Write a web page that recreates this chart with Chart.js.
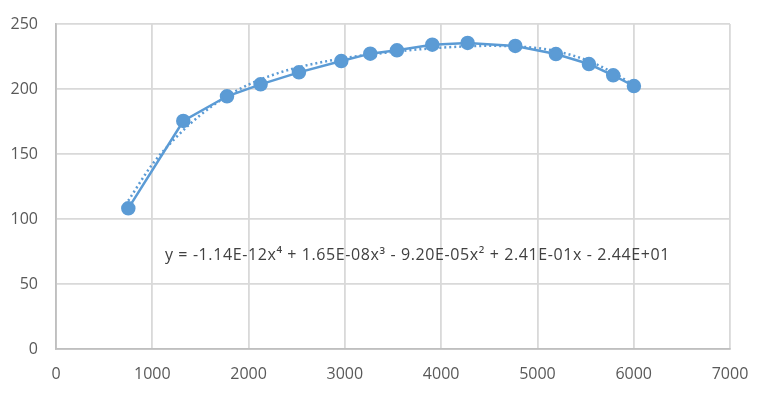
<!DOCTYPE html>
<html>
<head>
<meta charset="utf-8">
<script src="https://cdn.jsdelivr.net/npm/chart.js@4"></script>
<style>
  html, body { margin: 0; padding: 0; background: #fff; }
  #wrap { position: relative; width: 768px; height: 393px; }
  #eq {
    position: absolute; left: 165px; top: 243px;
    font-family: "Open Sans", "Liberation Sans", sans-serif;
    font-size: 16px; letter-spacing: 0.6px; color: #404040; white-space: nowrap;
  }
</style>
</head>
<body>
<div id="wrap">
  <canvas id="chart1" width="768" height="393"></canvas>
  <div id="eq">y = -1.14E-12x⁴ + 1.65E-08x³ - 9.20E-05x² + 2.41E-01x - 2.44E+01</div>
</div>
<script>
// measured points
var xValues = [751, 1322, 1776, 2125, 2523, 2963, 3264, 3541, 3908, 4275, 4770, 5192, 5535, 5787, 6002];
var yValues = [108.2, 175.4, 194.4, 203.6, 212.8, 221.5, 227.2, 229.8, 234.1, 235.4, 233.1, 226.9, 219.2, 210.5, 202.3];

// dotted trendline
var trendX = [750, 1000, 1250, 1500, 1750, 2000, 2250, 2500, 3000, 3500, 4000, 4500, 5000, 5200, 5500, 5800, 6000];
var trendY = [114, 142, 163, 180, 193.3, 203.4, 210.8, 216.4, 223.8, 228.5, 231.8, 233.2, 231.5, 229, 222.5, 212, 203];

var xTicks = [0, 1000, 2000, 3000, 4000, 5000, 6000, 7000];
var yTicks = [0, 50, 100, 150, 200, 250];

var blue = '#5B9BD5';

function toPoints(xs, ys) {
  var pts = [];
  for (var i = 0; i < xs.length; i++) pts.push({x: xs[i], y: ys[i]});
  return pts;
}

var ctx = document.getElementById('chart1').getContext('2d');
var chart1 = new Chart(ctx, {
  type: 'scatter',
  data: {
    datasets: [{
      label: 'data',
      data: toPoints(xValues, yValues),
      showLine: true,
      borderColor: blue,
      backgroundColor: blue,
      borderWidth: 2.5,
      pointRadius: 6,
      pointHoverRadius: 6,
      order: 1
    }, {
      label: 'trend',
      data: toPoints(trendX, trendY),
      showLine: true,
      borderColor: blue,
      borderWidth: 2.5,
      borderDash: [2, 3],
      cubicInterpolationMode: 'monotone',
      pointRadius: 0,
      order: 2
    }]
  },
  options: {
    responsive: false,
    animation: false,
    layout: { padding: { top: 24, right: 38, left: 0, bottom: 0 } },
    plugins: { legend: { display: false }, tooltip: { enabled: false } },
    scales: {
      x: {
        type: 'linear', min: 0, max: 7000,
        afterBuildTicks: function (s) { s.ticks = xTicks.map(function (v) { return {value: v}; }); },
        afterFit: function (s) { s.height = 44; },
        grid: { color: '#d9d9d9', lineWidth: 1.8, drawTicks: false },
        border: { color: '#bfbfbf', width: 1.8 },
        ticks: {
          color: '#595959', padding: 16, font: { family: 'Open Sans', size: 16 }, maxRotation: 0,
          callback: function (v) { return String(v); }
        }
      },
      y: {
        min: 0, max: 250,
        afterBuildTicks: function (s) { s.ticks = yTicks.map(function (v) { return {value: v}; }); },
        // tick padding would otherwise push the plot top down
        afterFit: function (s) { s.width = 56; s.paddingTop = 0; s.paddingBottom = 0; },
        grid: { color: '#d9d9d9', lineWidth: 1.8, drawTicks: false },
        border: { color: '#bfbfbf', width: 1.8 },
        ticks: { color: '#595959', padding: 18, font: { family: 'Open Sans', size: 16 } }
      }
    }
  }
});
</script>
</body>
</html>
